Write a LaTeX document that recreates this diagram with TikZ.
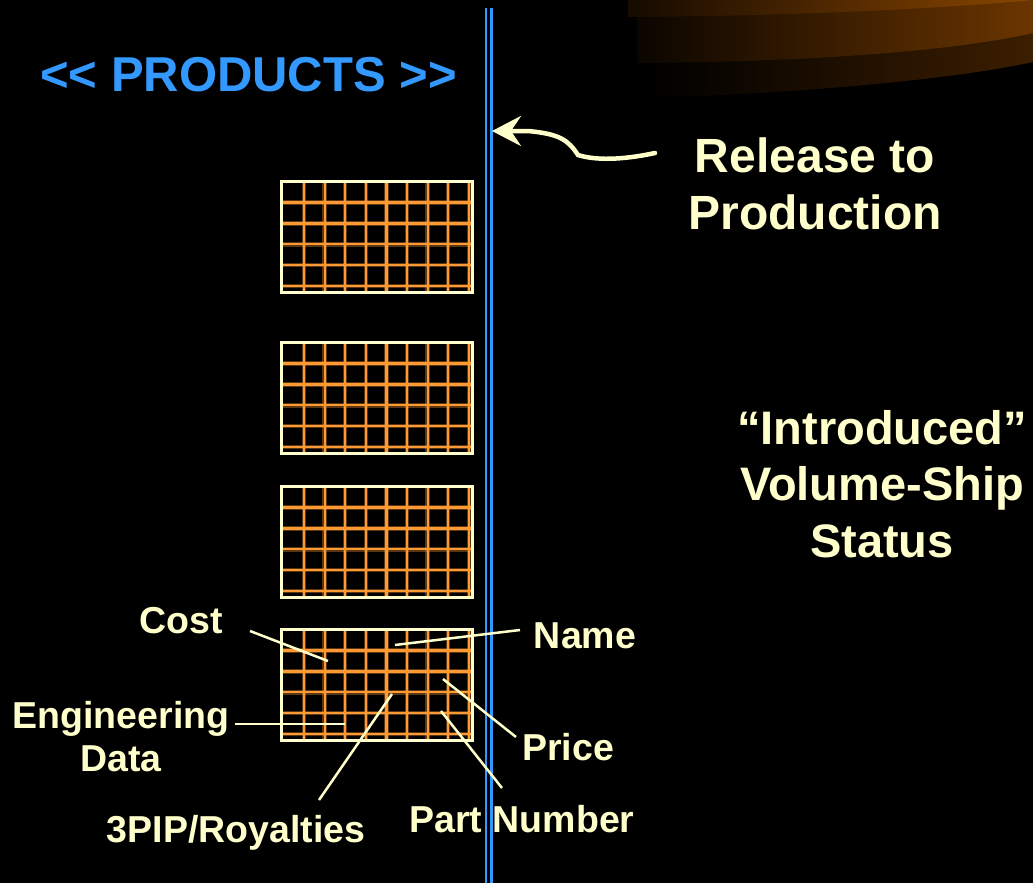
\documentclass[tikz,border=0pt]{standalone}
\usepackage{fontspec}
\setmainfont{Liberation Sans}
\usetikzlibrary{arrows.meta}
\definecolor{cream}{HTML}{FFFFCC}
\definecolor{gridorange}{HTML}{FF9933}
\definecolor{bluelight}{HTML}{3399FF}
\definecolor{swooshA}{HTML}{8B4600}
\definecolor{swooshB}{HTML}{6B3500}
\definecolor{swooshC}{HTML}{3C1E00}
\begin{document}
\begin{tikzpicture}[x=1pt,y=-1pt,
  gridglow/.style={draw=gridorange, line width=4.5pt, opacity=0.35},
  gridline/.style={draw=gridorange, line width=2.2pt},
  gridbox/.style={draw=cream, line width=3pt, minimum width=191pt, minimum height=111pt,
    inner sep=0pt, outer sep=0pt, anchor=north west,
    path picture={
      \foreach \dx in {23,43.6,64.2,84.8,105.4,126,146.6,167.2,187.8} {
        \draw[gridglow] ([xshift=\dx pt]path picture bounding box.north west) -- ([xshift=\dx pt]path picture bounding box.south west);
        \draw[gridline] ([xshift=\dx pt]path picture bounding box.north west) -- ([xshift=\dx pt]path picture bounding box.south west);
      }
      \foreach \dy in {21.5,42.4,63.3,84.2,105.1} {
        \draw[gridglow] ([yshift=-\dy pt]path picture bounding box.north west) -- ([yshift=-\dy pt]path picture bounding box.north east);
        \draw[gridline] ([yshift=-\dy pt]path picture bounding box.north west) -- ([yshift=-\dy pt]path picture bounding box.north east);
      }
    }},
  lbl/.style={text=cream, font=\fontsize{37.5}{43}\selectfont\bfseries, inner sep=0pt, anchor=base, align=center},
  bigtxt/.style={text=cream, font=\fontsize{48}{57}\selectfont\bfseries, inner sep=0pt, anchor=base, align=center},
  conn/.style={draw=cream, line width=2.5pt},
  bluerule/.style={draw=bluelight, line width=2.6pt},
  relarrow/.style={draw=cream, line width=4.5pt, line cap=round, -{Stealth[length=29pt,width=30pt,inset=10pt]}}
]
\fill[black] (0,0) rectangle (1033,883);
\useasboundingbox (0,0) rectangle (1033,883);

% swoosh
\shade[left color=black, right color=swooshC] (650,0) -- (650,98) .. controls (800,93) and (950,80) .. (1033,62) -- (1033,0) -- cycle;
\shade[left color=black!90!swooshB, right color=swooshB] (637,0) -- (637,63) .. controls (800,62) and (950,52) .. (1033,33) -- (1033,0) -- cycle;
\shade[left color=black!85!swooshA, right color=swooshA] (628,0) -- (628,17) .. controls (800,16) and (950,8) .. (1033,0) -- cycle;

% blue double rule
\coordinate (ruleAtop) at (486,8);
\coordinate (ruleAbot) at (486,883);
\coordinate (ruleBtop) at (491.5,8);
\coordinate (ruleBbot) at (491.5,883);
\draw[bluerule] (ruleAtop) -- (ruleAbot);
\draw[bluerule] (ruleBtop) -- (ruleBbot);

% grid boxes
\node[gridbox] (box1) at (281,181) {};
\node[gridbox] (box2) at (281,342) {};
\node[gridbox] (box3) at (281,486) {};
\node[gridbox] (box4) at (281,629) {};

% texts
\node[text=bluelight, font=\fontsize{49}{57}\selectfont\bfseries, inner sep=0pt, anchor=base west] (products) at (40,91) {<\kern0pt< PRODUCTS >\kern0pt>};
\node[bigtxt] (release) at (815,229) {Release to\\Production};
\node[bigtxt, font=\fontsize{47}{56.5}\selectfont\bfseries] (status) at (882,557) {“Introduced”\\Volume-Ship\\Status};

\node[lbl] (cost) at (181,633) {Cost};
\node[lbl] (name) at (585,648) {Name};
\node[lbl] (eng) at (121,771) {Engineering\\Data};
\node[lbl] (price) at (568,760) {Price};
\node[lbl] (partno) at (522,832) {Part Number};
\node[lbl] (royal) at (236,842) {3PIP/Royalties};

% arrow
\coordinate (relstart) at (655,153);
\coordinate (reltip) at (492,131);
\draw[relarrow] (relstart) .. controls (632,158) and (600,162) .. (578,155) .. controls (568,140) and (560,134) .. (528,131) -- (reltip);

% connectors
\coordinate (costA) at (250,631); \coordinate (costB) at (328,661);
\coordinate (nameA) at (520,630); \coordinate (nameB) at (395,645);
\coordinate (engA) at (235,724); \coordinate (engB) at (345,724);
\coordinate (royA) at (319,800); \coordinate (royB) at (392,694);
\coordinate (priA) at (516,737); \coordinate (priB) at (443,679);
\coordinate (parA) at (502,788); \coordinate (parB) at (441,711);
\draw[conn] (costA) -- (costB);
\draw[conn] (nameA) -- (nameB);
\draw[conn] (engA) -- (engB);
\draw[conn] (royA) -- (royB);
\draw[conn] (priA) -- (priB);
\draw[conn] (parA) -- (parB);
\end{tikzpicture}
\end{document}
